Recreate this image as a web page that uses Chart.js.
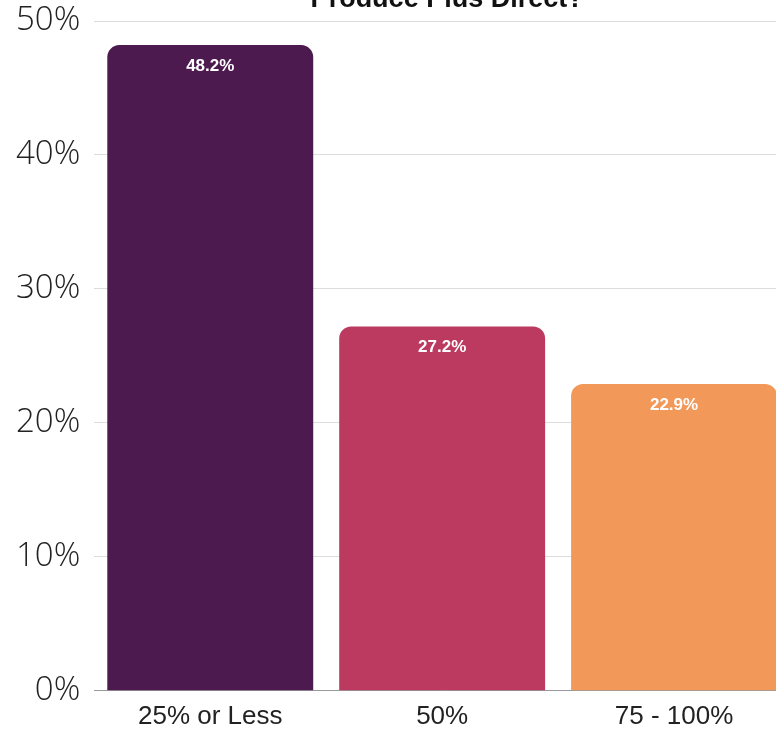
<!DOCTYPE html>
<html>
<head>
<meta charset="utf-8">
<script src="https://cdn.jsdelivr.net/npm/chart.js@4/dist/chart.umd.min.js"></script>
<style>
  html, body { margin: 0; padding: 0; background: #fff; }
  #frame { position: relative; width: 776px; height: 732px; overflow: hidden; }
  #box { position: absolute; left: 0; top: -18px; width: 800px; height: 755px; }
</style>
</head>
<body>
<div id="frame">
  <div id="box"><canvas id="shareChart"></canvas></div>
</div>
<script>
const categories = ['25% or Less', '50%', '75 - 100%'];
const shares = [48.2, 27.2, 22.9];
const barColors = ['#4d1a4f', '#bc3a5f', '#f2995a'];
const titleText = 'Produce Plus Direct?';

// valeurs en blanc en haut de chaque barre
const topLabels = {
  id: 'topLabels',
  afterDatasetsDraw(chart) {
    const ctx = chart.ctx;
    const meta = chart.getDatasetMeta(0);
    ctx.save();
    ctx.fillStyle = '#ffffff';
    ctx.font = 'bold 17px "Liberation Sans", Arial, sans-serif';
    ctx.textAlign = 'center';
    ctx.textBaseline = 'middle';
    meta.data.forEach((bar, i) => {
      ctx.fillText(shares[i].toFixed(1) + '%', bar.x, bar.y + 21);
    });
    ctx.restore();
  }
};

// titre centré sur la zone du graphique
const areaTitle = {
  id: 'areaTitle',
  afterDraw(chart) {
    const ctx = chart.ctx;
    const area = chart.chartArea;
    ctx.save();
    ctx.fillStyle = '#111';
    ctx.font = 'bold 27px "Liberation Sans", Arial, sans-serif';
    ctx.textAlign = 'center';
    ctx.textBaseline = 'alphabetic';
    ctx.fillText(titleText, (area.left + area.right) / 2 + 5, area.top - 14);
    ctx.restore();
  }
};

new Chart(document.getElementById('shareChart'), {
  type: 'bar',
  data: {
    labels: categories,
    datasets: [{
      data: shares,
      backgroundColor: barColors,
      borderRadius: { topLeft: 12, topRight: 12 },
      borderSkipped: 'start',
      barPercentage: 0.888,
      categoryPercentage: 1
    }]
  },
  options: {
    responsive: true,
    maintainAspectRatio: false,
    animation: false,
    layout: { padding: { left: 2, right: 10, top: 39, bottom: 3 } },
    plugins: {
      legend: { display: false },
      tooltip: { enabled: false },
      title: { display: false }
    },
    scales: {
      x: {
        grid: { display: false },
        border: { color: '#999' },
        ticks: {
          color: '#222',
          padding: 2,
          font: { family: '"Liberation Sans", Arial, sans-serif', size: 26 }
        }
      },
      y: {
        min: 0,
        max: 50,
        ticks: {
          stepSize: 10,
          color: '#222',
          padding: 14,
          font: { family: '"Open Sans", sans-serif', size: 33, weight: 300 },
          callback: v => v + '%'
        },
        grid: { color: '#dddddd', drawTicks: false },
        border: { display: false }
      }
    }
  },
  plugins: [topLabels, areaTitle]
});
</script>
</body>
</html>
